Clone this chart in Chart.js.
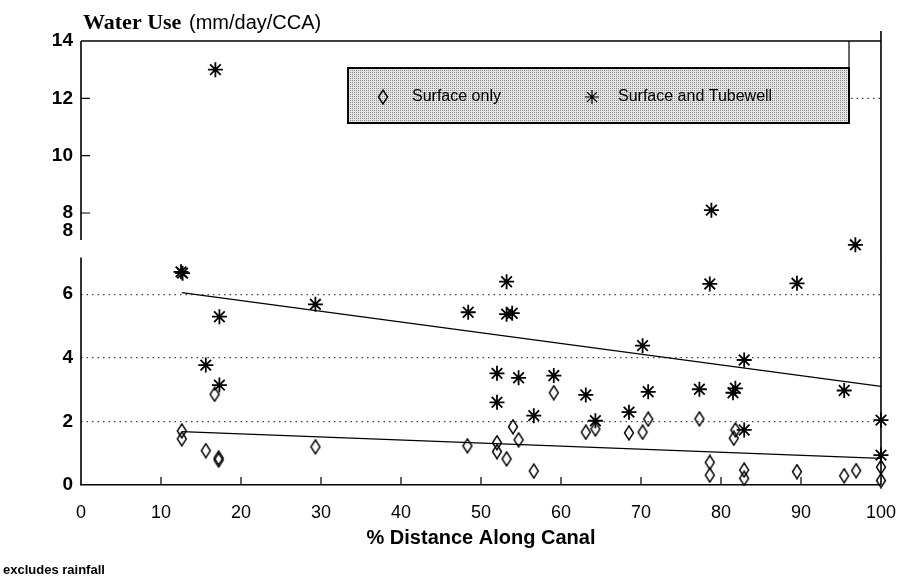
<!DOCTYPE html>
<html>
<head>
<meta charset="utf-8">
<script src="https://cdn.jsdelivr.net/npm/chart.js@4.4.0/dist/chart.umd.min.js"></script>
<style>
body{margin:0;background:#fff;}
#wrap{width:913px;height:581px;position:relative;}
</style>
</head>
<body>
<div id="wrap"><canvas id="myChart"></canvas></div>
<script>
'use strict';
// surface only (% distance along canal, mm/day/CCA)
let surfaceX = [16.7, 12.6, 12.6, 15.6, 17.2, 17.2, 29.3, 48.3, 52.0, 52.0, 53.2, 54.0, 54.7, 56.6, 59.1, 63.1,
    64.3, 68.5, 70.2, 70.9, 77.3, 78.6, 78.6, 81.8, 81.6, 82.9, 82.9, 89.5, 95.4, 96.9, 100, 100];
let surfaceY = [2.85, 1.70, 1.45, 1.08, 0.85, 0.78, 1.20, 1.23, 1.33, 1.05, 0.82, 1.83, 1.42, 0.44, 2.90, 1.66,
    1.76, 1.64, 1.66, 2.07, 2.08, 0.71, 0.31, 1.73, 1.47, 0.47, 0.21, 0.42, 0.29, 0.45, 0.56, 0.14];
// surface and tubewell, lower part of the axis
let tubewellX = [12.7, 12.5, 17.3, 29.3, 15.6, 17.3, 53.2, 78.6, 89.5, 48.4, 53.2, 53.9, 70.2, 82.9, 52.0, 54.7,
    59.1, 52.0, 56.6, 63.1, 70.9, 64.3, 68.5, 77.3, 81.8, 81.5, 95.4, 82.9, 100, 100, 96.8];
let tubewellY = [6.66, 6.70, 5.29, 5.68, 3.77, 3.14, 6.39, 6.32, 6.34, 5.43, 5.37, 5.40, 4.38, 3.93, 3.51, 3.37,
    3.44, 2.60, 2.18, 2.83, 2.93, 2.02, 2.29, 3.01, 3.04, 2.90, 2.97, 1.73, 2.04, 0.94, 7.55];
// surface and tubewell, upper (broken) part of the axis
let tubewellHighX = [16.8, 78.8];
let tubewellHighY = [13.0, 8.1];
// fitted lines
let trendX = [12.6, 100];
let trendTubewell = [6.05, 3.10];
let trendSurface = [1.68, 0.84];

let xTicks = [0, 10, 20, 30, 40, 50, 60, 70, 80, 90, 100];
let lowTicks = [0, 2, 4, 6, 8];
let highTicks = [8, 10, 12, 14];

function toPoints(xs, ys) {
    return xs.map((v, i) => ({x: v, y: ys[i]}));
}

function makeDiamond(w, h) {
    let c = document.createElement('canvas');
    c.width = w; c.height = h;
    let g = c.getContext('2d');
    g.strokeStyle = '#000';
    g.lineWidth = 1.4;
    g.beginPath();
    g.moveTo(w / 2, 1); g.lineTo(w - 1.5, h / 2); g.lineTo(w / 2, h - 1); g.lineTo(1.5, h / 2);
    g.closePath();
    g.stroke();
    return c;
}
let diamond = makeDiamond(12, 16);

function makeDots() {
    let c = document.createElement('canvas');
    c.width = 2; c.height = 2;
    let g = c.getContext('2d');
    g.fillStyle = '#e4e4e4'; g.fillRect(0, 0, 2, 2);
    g.fillStyle = '#8c8c8c'; g.fillRect(0, 0, 1, 1);
    return c;
}

const decor = {
    id: 'decor',
    afterDraw(chart) {
        const {ctx, chartArea: a, scales} = chart;
        const low = scales.y, high = scales.yHigh, xs = scales.x;
        ctx.save();
        ctx.strokeStyle = '#000';
        ctx.lineWidth = 1.6;
        ctx.beginPath();
        ctx.moveTo(a.left, a.top); ctx.lineTo(a.right, a.top);
        ctx.moveTo(a.right, a.top - 10); ctx.lineTo(a.right, a.bottom);
        // broken left axis
        ctx.moveTo(a.left, a.top); ctx.lineTo(a.left, low.getPixelForValue(7.7));
        ctx.moveTo(a.left, low.getPixelForValue(7.15)); ctx.lineTo(a.left, a.bottom);
        ctx.stroke();

        // inward tick marks
        ctx.lineWidth = 1.2;
        ctx.beginPath();
        highTicks.forEach(v => {
            if (v < 14) {
                let py = high.getPixelForValue(v);
                ctx.moveTo(a.left, py); ctx.lineTo(a.left + 9, py);
            }
        });
        xTicks.forEach(v => {
            if (v > 0 && v < 100) {
                let px = xs.getPixelForValue(v);
                ctx.moveTo(px, a.bottom); ctx.lineTo(px, a.bottom - 8);
            }
        });
        ctx.stroke();

        // legend box
        let lx = 348, ly = 68, lw = 501, lh = 55;
        ctx.fillStyle = ctx.createPattern(makeDots(), 'repeat');
        ctx.fillRect(lx, ly, lw, lh);
        ctx.lineWidth = 2;
        ctx.strokeRect(lx, ly, lw, lh);
        ctx.lineWidth = 1.2;
        ctx.beginPath();
        ctx.moveTo(lx + lw, a.top); ctx.lineTo(lx + lw, ly);
        ctx.stroke();
        ctx.setLineDash([1.5, 4]);
        ctx.strokeStyle = '#444';
        ctx.beginPath();
        let p12 = high.getPixelForValue(12);
        ctx.moveTo(lx + lw + 2, p12); ctx.lineTo(a.right, p12);
        ctx.stroke();
        ctx.setLineDash([]);
        ctx.strokeStyle = '#000';
        ctx.drawImage(diamond, 383 - 6, ly + 29 - 8);
        Chart.helpers.drawPoint(ctx, {pointStyle: 'star', radius: 7, borderWidth: 1.8}, 592, ly + 29);
        ctx.fillStyle = '#000';
        ctx.textBaseline = 'middle';
        ctx.font = '16px "Liberation Sans", Arial, sans-serif';
        ctx.fillText('Surface only', 412, ly + 29);
        ctx.fillText('Surface and Tubewell', 618, ly + 29);

        // axis caption
        ctx.textBaseline = 'alphabetic';
        ctx.font = 'bold 22px "Liberation Serif", "Times New Roman", serif';
        ctx.fillText('Water Use', 83, 29);
        ctx.font = '20px "Liberation Sans", Arial, sans-serif';
        ctx.fillText('(mm/day/CCA)', 189, 29);

        // footnote
        ctx.textBaseline = 'middle';
        ctx.font = 'bold 13px "Liberation Sans", Arial, sans-serif';
        ctx.fillText('excludes rainfall', 3, 570);
        ctx.restore();
    }
};

function chartRender() {
    let ctx = document.getElementById('myChart').getContext('2d');
    let tickFont = {family: '"Liberation Sans", Arial, sans-serif', size: 18};
    let yFont = {family: '"Liberation Sans", Arial, sans-serif', size: 19, weight: 'bold'};
    new Chart(ctx, {
        type: 'scatter',
        data: {
            datasets: [{
                label: 'Surface only',
                data: toPoints(surfaceX, surfaceY),
                yAxisID: 'y',
                pointStyle: diamond,
                pointRadius: 7,
                clip: false
            }, {
                label: 'Surface and Tubewell',
                data: toPoints(tubewellX, tubewellY),
                yAxisID: 'y',
                pointStyle: 'star',
                pointRadius: 7.5,
                borderColor: '#000',
                borderWidth: 1.8,
                clip: false
            }, {
                label: 'Surface and Tubewell (upper)',
                data: toPoints(tubewellHighX, tubewellHighY),
                yAxisID: 'yHigh',
                pointStyle: 'star',
                pointRadius: 7.5,
                borderColor: '#000',
                borderWidth: 1.8,
                clip: false
            }, {
                label: 'Tubewell trend',
                data: toPoints(trendX, trendTubewell),
                yAxisID: 'y',
                showLine: true,
                pointRadius: 0,
                borderColor: '#000',
                borderWidth: 1.2
            }, {
                label: 'Surface trend',
                data: toPoints(trendX, trendSurface),
                yAxisID: 'y',
                showLine: true,
                pointRadius: 0,
                borderColor: '#000',
                borderWidth: 1.2
            }]
        },
        options: {
            responsive: true,
            maintainAspectRatio: false,
            animation: false,
            layout: {padding: {left: 0, top: 41, right: 29, bottom: 30}},
            plugins: {legend: {display: false}, tooltip: {enabled: false}},
            scales: {
                x: {
                    type: 'linear',
                    min: 0,
                    max: 100,
                    afterBuildTicks: s => { s.ticks = xTicks.map(v => ({value: v})); },
                    ticks: {color: '#000', font: tickFont, padding: 17, maxRotation: 0, autoSkip: false},
                    grid: {display: false, drawTicks: false},
                    border: {display: true, color: '#000', width: 1.6},
                    title: {
                        display: true,
                        text: '% Distance Along Canal',
                        color: '#000',
                        font: {family: '"Liberation Sans", Arial, sans-serif', size: 20, weight: 'bold'},
                        padding: {top: 0, bottom: 1}
                    },
                    afterFit: s => { s.height = 66; }
                },
                y: {
                    type: 'linear',
                    position: 'left',
                    stack: 'water',
                    stackWeight: 272,
                    min: 0,
                    max: 8.55,
                    afterBuildTicks: s => { s.ticks = lowTicks.map(v => ({value: v})); },
                    ticks: {color: '#000', font: yFont, padding: 8},
                    grid: {
                        drawTicks: false,
                        color: c => [2, 4, 6].includes(c.tick.value) ? '#444' : 'rgba(0,0,0,0)',
                        lineWidth: 1.2
                    },
                    border: {display: false, dash: [1.5, 4]},
                    afterFit: s => { s.width = 81; }
                },
                yHigh: {
                    type: 'linear',
                    position: 'left',
                    stack: 'water',
                    stackWeight: 172,
                    min: 8,
                    max: 14,
                    afterBuildTicks: s => { s.ticks = highTicks.map(v => ({value: v})); },
                    ticks: {color: '#000', font: yFont, padding: 8},
                    grid: {display: false, drawTicks: false},
                    border: {display: false},
                    afterFit: s => { s.width = 81; }
                }
            }
        },
        plugins: [decor]
    });
}

chartRender();
</script>
</body>
</html>
